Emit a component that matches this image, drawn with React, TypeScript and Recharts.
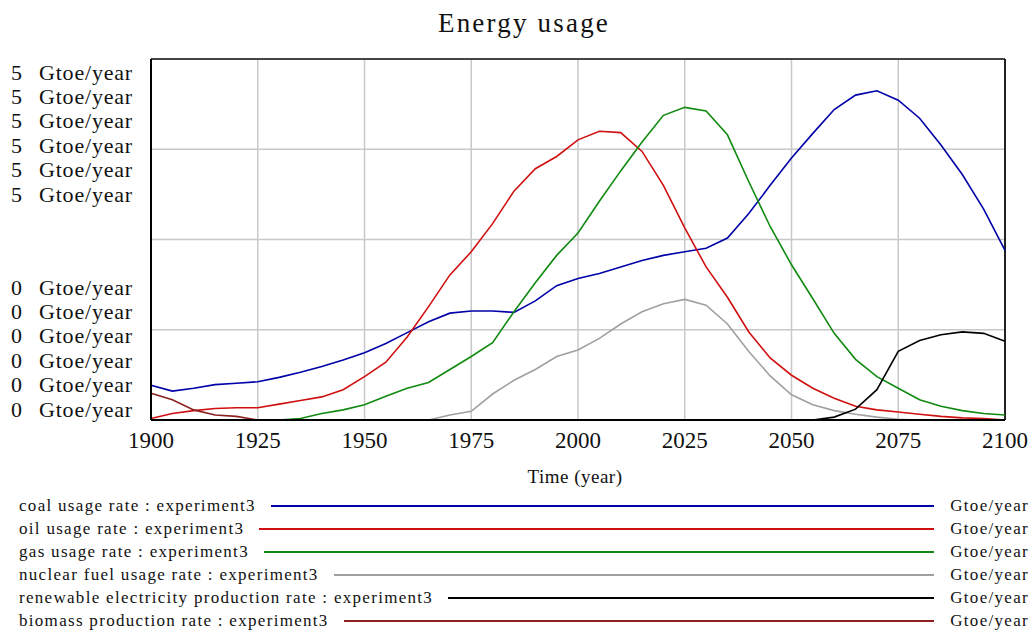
import React from "react";
import {
  CartesianGrid,
  Line,
  LineChart,
  ReferenceLine,
  XAxis,
  YAxis,
} from "recharts";

// simulation years, 5-year steps
const years = [
  1900, 1905, 1910, 1915, 1920, 1925, 1930, 1935, 1940, 1945, 1950, 1955, 1960,
  1965, 1970, 1975, 1980, 1985, 1990, 1995, 2000, 2005, 2010, 2015, 2020, 2025,
  2030, 2035, 2040, 2045, 2050, 2055, 2060, 2065, 2070, 2075, 2080, 2085, 2090,
  2095, 2100,
];

const coal = [
  0.48, 0.4, 0.44, 0.49, 0.51, 0.53, 0.59, 0.66, 0.74, 0.83, 0.93, 1.06, 1.21,
  1.36, 1.48, 1.51, 1.51, 1.49, 1.65, 1.86, 1.96, 2.03, 2.12, 2.21, 2.28, 2.33,
  2.38, 2.52, 2.86, 3.25, 3.63, 3.97, 4.3, 4.5, 4.56, 4.43, 4.18, 3.81, 3.4,
  2.92, 2.35,
];
const oil = [
  0.02, 0.09, 0.13, 0.16, 0.17, 0.17, 0.22, 0.27, 0.32, 0.42, 0.6, 0.8, 1.15,
  1.57, 2.01, 2.33, 2.72, 3.17, 3.48, 3.65, 3.88, 4.0, 3.98, 3.72, 3.25, 2.66,
  2.12, 1.7, 1.22, 0.86, 0.62, 0.44, 0.3, 0.19, 0.14, 0.11, 0.08, 0.05, 0.03,
  0.02, 0.0,
];
const gas = [
  0, 0, 0, 0, 0, 0, 0, 0.02, 0.09, 0.14, 0.21, 0.33, 0.44, 0.52, 0.7, 0.88,
  1.07, 1.5, 1.9, 2.28, 2.59, 3.03, 3.45, 3.85, 4.22, 4.33, 4.28, 3.95, 3.3,
  2.68, 2.15, 1.68, 1.2, 0.84, 0.6, 0.44, 0.28, 0.19, 0.13, 0.09, 0.07,
];
const nuclear = [
  0, 0, 0, 0, 0, 0, 0, 0, 0, 0, 0, 0, 0, 0, 0.07, 0.12, 0.36, 0.55, 0.7, 0.88,
  0.97, 1.13, 1.33, 1.5, 1.61, 1.67, 1.59, 1.33, 0.95, 0.61, 0.35, 0.21, 0.13,
  0.08, 0.04, 0.01, 0, 0, 0, 0, 0,
];
const renewable = [
  0, 0, 0, 0, 0, 0, 0, 0, 0, 0, 0, 0, 0, 0, 0, 0, 0, 0, 0, 0, 0, 0, 0, 0, 0, 0,
  0, 0, 0, 0, 0, 0, 0.04, 0.15, 0.42, 0.95, 1.1, 1.18, 1.22, 1.2, 1.09,
];
const biomass = [
  0.37, 0.28, 0.14, 0.07, 0.05, 0, 0, 0, 0, 0, 0, 0, 0, 0, 0, 0, 0, 0, 0, 0, 0,
  0, 0, 0, 0, 0, 0, 0, 0, 0, 0, 0, 0, 0, 0, 0, 0, 0, 0, 0, 0,
];

const xTicks = [1900, 1925, 1950, 1975, 2000, 2025, 2050, 2075, 2100];
const yTicks = [0, 1.25, 2.5, 3.75, 5];
const unit = "Gtoe/year";

const series = [
  { key: "coal", name: "coal usage rate : experiment3", color: "#0000a8" },
  { key: "oil", name: "oil usage rate : experiment3", color: "#d01010" },
  { key: "gas", name: "gas usage rate : experiment3", color: "#108a10" },
  { key: "nuclear", name: "nuclear fuel usage rate : experiment3", color: "#a0a0a0" },
  { key: "renewable", name: "renewable electricity production rate : experiment3", color: "#000000" },
  { key: "biomass", name: "biomass production rate : experiment3", color: "#8b2020" },
];

const data = years.map((year, i) => ({
  year,
  coal: coal[i],
  oil: oil[i],
  gas: gas[i],
  nuclear: nuclear[i],
  renewable: renewable[i],
  biomass: biomass[i],
}));

const FONT = '"Liberation Serif", "Times New Roman", serif';

// Vensim stacks one label per series at the top and bottom of the axis
const YTick = (props: any) => {
  const { y, payload } = props;
  if (payload.value !== 0 && payload.value !== 5) return null;
  const rows = series.map((s, i) => {
    const cy =
      payload.value === 5 ? y + 13 + i * 24.4 : y - 11 - (series.length - 1 - i) * 24.4;
    return (
      <g key={s.key}>
        <text x={11} y={cy} dominantBaseline="central" fontSize={22} fill="#111">
          {payload.value}
        </text>
        <text x={39} y={cy} dominantBaseline="central" fontSize={22} letterSpacing={0.8} fill="#111">
          {unit}
        </text>
      </g>
    );
  });
  return <g style={{ fontFamily: FONT }}>{rows}</g>;
};

const XTick = (props: any) => {
  const { x, y, payload } = props;
  return (
    <text
      x={x}
      y={y + 12}
      textAnchor="middle"
      dominantBaseline="central"
      fontSize={23}
      fill="#111"
      style={{ fontFamily: FONT }}
    >
      {payload.value}
    </text>
  );
};

export default function App() {
  return (
    <div
      style={{
        position: "absolute",
        left: 0,
        top: 0,
        width: 1031,
        height: 630,
        background: "#fff",
        fontFamily: FONT,
        color: "#111",
      }}
    >
      <div
        style={{
          position: "absolute",
          top: 8,
          left: 0,
          width: 1048,
          textAlign: "center",
          fontSize: 27,
          lineHeight: "30px",
          letterSpacing: 2.2,
        }}
      >
        Energy usage
      </div>

      <LineChart
        width={1031}
        height={630}
        data={data}
        margin={{ top: 59, right: 26, bottom: 150, left: 8 }}
      >
        <CartesianGrid
          stroke="#c8c8c8"
          strokeWidth={1.5}
          horizontalValues={yTicks}
          verticalValues={xTicks}
        />
        <XAxis
          dataKey="year"
          type="number"
          domain={[1900, 2100]}
          ticks={xTicks}
          tickLine={false}
          axisLine={{ stroke: "#000", strokeWidth: 2 }}
          height={60}
          tick={<XTick />}
          interval={0}
        />
        <YAxis
          type="number"
          domain={[0, 5]}
          ticks={yTicks}
          tickLine={false}
          axisLine={{ stroke: "#000", strokeWidth: 2 }}
          width={143}
          tick={<YTick />}
          interval={0}
        />
        <ReferenceLine y={5} stroke="#444" strokeWidth={2} />
        <ReferenceLine x={2100} stroke="#222" strokeWidth={2} />
        {series.map((s) => (
          <Line
            key={s.key}
            dataKey={s.key}
            name={s.name}
            type="linear"
            stroke={s.color}
            strokeWidth={1.6}
            dot={false}
            isAnimationActive={false}
          />
        ))}
      </LineChart>

      <div
        style={{
          position: "absolute",
          top: 466,
          left: 480,
          width: 190,
          textAlign: "center",
          fontSize: 19,
          letterSpacing: 0.5,
        }}
      >
        Time (year)
      </div>

      <div style={{ position: "absolute", top: 494.5, left: 19, width: 1010 }}>
        {series.map((s) => (
          <div
            key={s.key}
            style={{
              display: "flex",
              alignItems: "center",
              height: 23,
              fontSize: 17,
              letterSpacing: 1.3,
              whiteSpace: "nowrap",
            }}
          >
            <span>{s.name}</span>
            <div
              style={{
                flex: 1,
                height: 0,
                borderTop: `2px solid ${s.color}`,
                marginLeft: 15,
                marginRight: 16,
              }}
            />
            <span>{unit}</span>
          </div>
        ))}
      </div>
    </div>
  );
}
